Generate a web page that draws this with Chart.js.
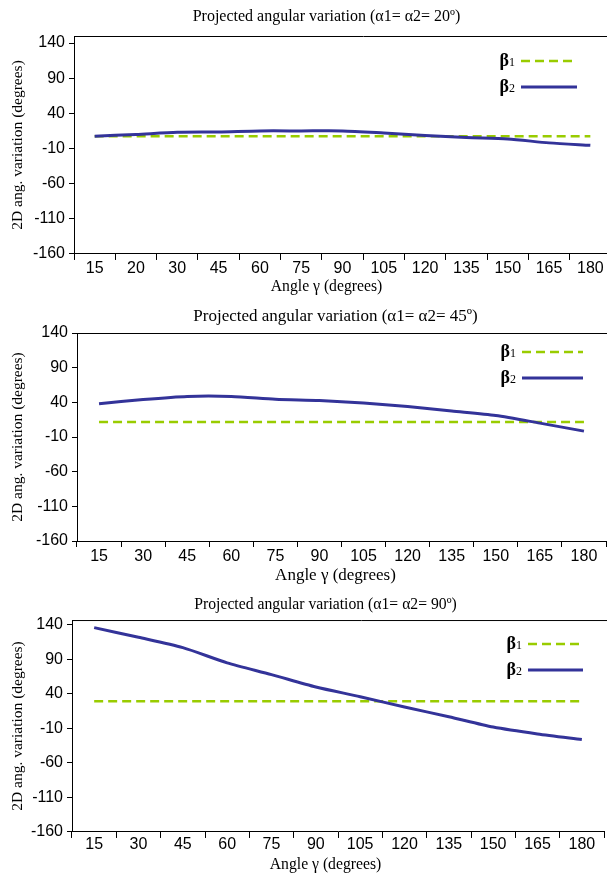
<!DOCTYPE html>
<html>
<head>
<meta charset="utf-8">
<script src="https://cdn.jsdelivr.net/npm/chart.js@4.4.0/dist/chart.umd.min.js"></script>
<style>
  html, body { margin: 0; padding: 0; background: #fff; width: 607px; height: 874px; overflow: hidden; }
  .box { position: absolute; left: 0; width: 607px; overflow: hidden; }
  .inner { position: relative; }
</style>
</head>
<body>
<div class="box" style="top:0px;height:298px"><div class="inner" style="width:653px;height:298px"><canvas id="c1"></canvas></div></div>
<div class="box" style="top:295px;height:292px"><div class="inner" style="width:671px;height:292px"><canvas id="c2"></canvas></div></div>
<div class="box" style="top:590px;height:286px"><div class="inner" style="width:651px;height:286px"><canvas id="c3"></canvas></div></div>
<script>
'use strict';
// angle gamma categories
var gamma20 = ['15', '20', '30', '45', '60', '75', '90', '105', '120', '135', '150', '165', '180'];
var gamma = ['15', '30', '45', '60', '75', '90', '105', '120', '135', '150', '165', '180'];

// alpha1 = alpha2 = 20
var beta1_20 = [7.5, 7.5, 7.5, 7.5, 7.5, 7.5, 7.5, 7.5, 7.5, 7.5, 7.5, 7.5, 7.5];
var beta2_20 = [7.5, 10, 13, 13.5, 15, 15, 15, 12, 8.5, 5.5, 3.5, -2, -5.5];
// alpha1 = alpha2 = 45
var beta1_45 = [11.5, 11.5, 11.5, 11.5, 11.5, 11.5, 11.5, 11.5, 11.5, 11.5, 11.5, 11.5];
var beta2_45 = [38, 44, 48.5, 48.5, 44.5, 42.5, 39, 34, 27.5, 21, 10, -1.5];
// alpha1 = alpha2 = 90
var beta1_90 = [29.5, 29.5, 29.5, 29.5, 29.5, 29.5, 29.5, 29.5, 29.5, 29.5, 29.5, 29.5];
var beta2_90 = [136, 122, 107, 85, 68, 50, 36, 21, 7, -8, -18, -26];

var yTicks = [-160, -110, -60, -10, 40, 90, 140];

var SERIF = '"Liberation Serif", "Times New Roman", serif';
var SANS = '"Liberation Sans", Arial, sans-serif';
var GREEN = '#99cc00';
var BLUE = '#333399';

// line along the top of the plot
var topLine = {
  id: 'topLine',
  afterDraw: function(chart) {
    var a = chart.chartArea, c = chart.ctx;
    c.save();
    c.strokeStyle = '#000';
    c.lineWidth = 1;
    c.beginPath();
    c.moveTo(a.left, a.top + 0.5);
    c.lineTo(chart.width, a.top + 0.5);
    c.stroke();
    c.restore();
  }
};

// legend inside the plot: text first, then the line sample
var betaLegend = {
  id: 'betaLegend',
  afterDraw: function(chart, args, o) {
    var c = chart.ctx, a = chart.chartArea;
    chart.data.datasets.forEach(function(ds, i) {
      var y = a.top + o.top + i * o.gap;
      c.save();
      c.strokeStyle = ds.borderColor;
      c.lineWidth = ds.borderWidth;
      c.setLineDash(ds.borderDash || []);
      c.beginPath();
      c.moveTo(o.x, y);
      c.lineTo(o.x + o.len, y);
      c.stroke();
      c.setLineDash([]);
      var head = ds.label.charAt(0), tail = ds.label.slice(1);
      c.fillStyle = '#000';
      c.textBaseline = 'alphabetic';
      c.font = '12px ' + SERIF;
      var wt = c.measureText(tail).width;
      c.fillText(tail, o.x - 6 - wt, y + 5);
      c.font = 'bold 18px ' + SERIF;
      var wh = c.measureText(head).width;
      c.fillText(head, o.x - 6 - wt - wh, y + 5);
      c.restore();
    });
  }
};

function makeChart(id, p) {
  var ctx = document.getElementById(id).getContext('2d');
  return new Chart(ctx, {
    type: 'line',
    data: {
      labels: p.labels,
      datasets: [
        { label: 'β1', data: p.b1, borderColor: GREEN, borderWidth: 2.5, borderDash: [9, 5], pointRadius: 0, tension: 0, order: 2 },
        { label: 'β2', data: p.b2, borderColor: BLUE, borderWidth: 3, pointRadius: 0, tension: 0.25, order: 1 }
      ]
    },
    options: {
      responsive: true,
      maintainAspectRatio: false,
      animation: false,
      events: [],
      layout: { padding: 0 },
      plugins: {
        legend: { display: false },
        tooltip: { enabled: false },
        title: {
          display: true, text: p.title, color: '#000',
          font: { family: SERIF, size: p.tSize, weight: 'normal', lineHeight: 1.2 },
          padding: { top: p.tTop, bottom: p.tBottom }
        },
        subtitle: {
          display: true, position: 'bottom', text: 'Angle γ (degrees)', color: '#000',
          font: { family: SERIF, size: p.sSize, weight: 'normal', lineHeight: 1.2 },
          padding: { top: p.sTop, bottom: p.sBottom }
        },
        betaLegend: { x: p.legX, top: p.legTop, gap: 26, len: p.legLen }
      },
      scales: {
        x: {
          offset: true,
          grid: { offset: true, drawOnChartArea: false, color: '#000', tickLength: 6 },
          border: { color: '#000', width: 1 },
          ticks: { color: '#000', font: { family: SANS, size: 16 }, padding: p.xPad, maxRotation: 0, autoSkip: false },
          afterFit: function(s) { s.height = 20; }
        },
        y: {
          min: -160,
          max: p.yMax,
          afterBuildTicks: function(s) { s.ticks = yTicks.map(function(v) { return { value: v }; }); },
          grid: { drawOnChartArea: false, color: '#000', tickLength: 5 },
          border: { color: '#000', width: 1 },
          ticks: { color: '#000', font: { family: SANS, size: 16 }, padding: 4 },
          title: {
            display: true, text: '2D ang. variation (degrees)', color: '#000',
            font: { family: SERIF, size: 15.5 }, padding: { top: 8.2, bottom: 0 }
          },
          afterFit: function(s) { s.width = p.left; }
        },
        yR: {
          type: 'linear',
          position: 'right',
          display: true,
          grid: { display: false },
          border: { display: false },
          ticks: { display: false },
          afterFit: function(s) { s.width = p.W - p.right; }
        }
      }
    },
    plugins: [topLine, betaLegend]
  });
}

makeChart('c1', {
  labels: gamma20, b1: beta1_20, b2: beta2_20,
  title: 'Projected angular variation (α1= α2= 20º)',
  W: 653, left: 74, right: 611, yMax: 150,
  tSize: 16, tTop: 7.4, tBottom: 9.4,
  sSize: 15.7, sTop: 3.6, sBottom: 1.6,
  xPad: -1, legX: 521, legLen: 56, legTop: 25
});
makeChart('c2', {
  labels: gamma, b1: beta1_45, b2: beta2_45,
  title: 'Projected angular variation (α1= α2= 45º)',
  W: 671, left: 77, right: 606, yMax: 140,
  tSize: 17, tTop: 11.8, tBottom: 5.8,
  sSize: 17, sTop: 4.8, sBottom: 0.8,
  xPad: 0, legX: 522, legLen: 61, legTop: 19
});
makeChart('c3', {
  labels: gamma, b1: beta1_90, b2: beta2_90,
  title: 'Projected angular variation (α1= α2= 90º)',
  W: 651, left: 72, right: 604, yMax: 147,
  tSize: 15.7, tTop: 5.6, tBottom: 5.6,
  sSize: 15.7, sTop: 3.6, sBottom: 1.6,
  xPad: -3, legX: 528, legLen: 55, legTop: 24
});
</script>
</body>
</html>
